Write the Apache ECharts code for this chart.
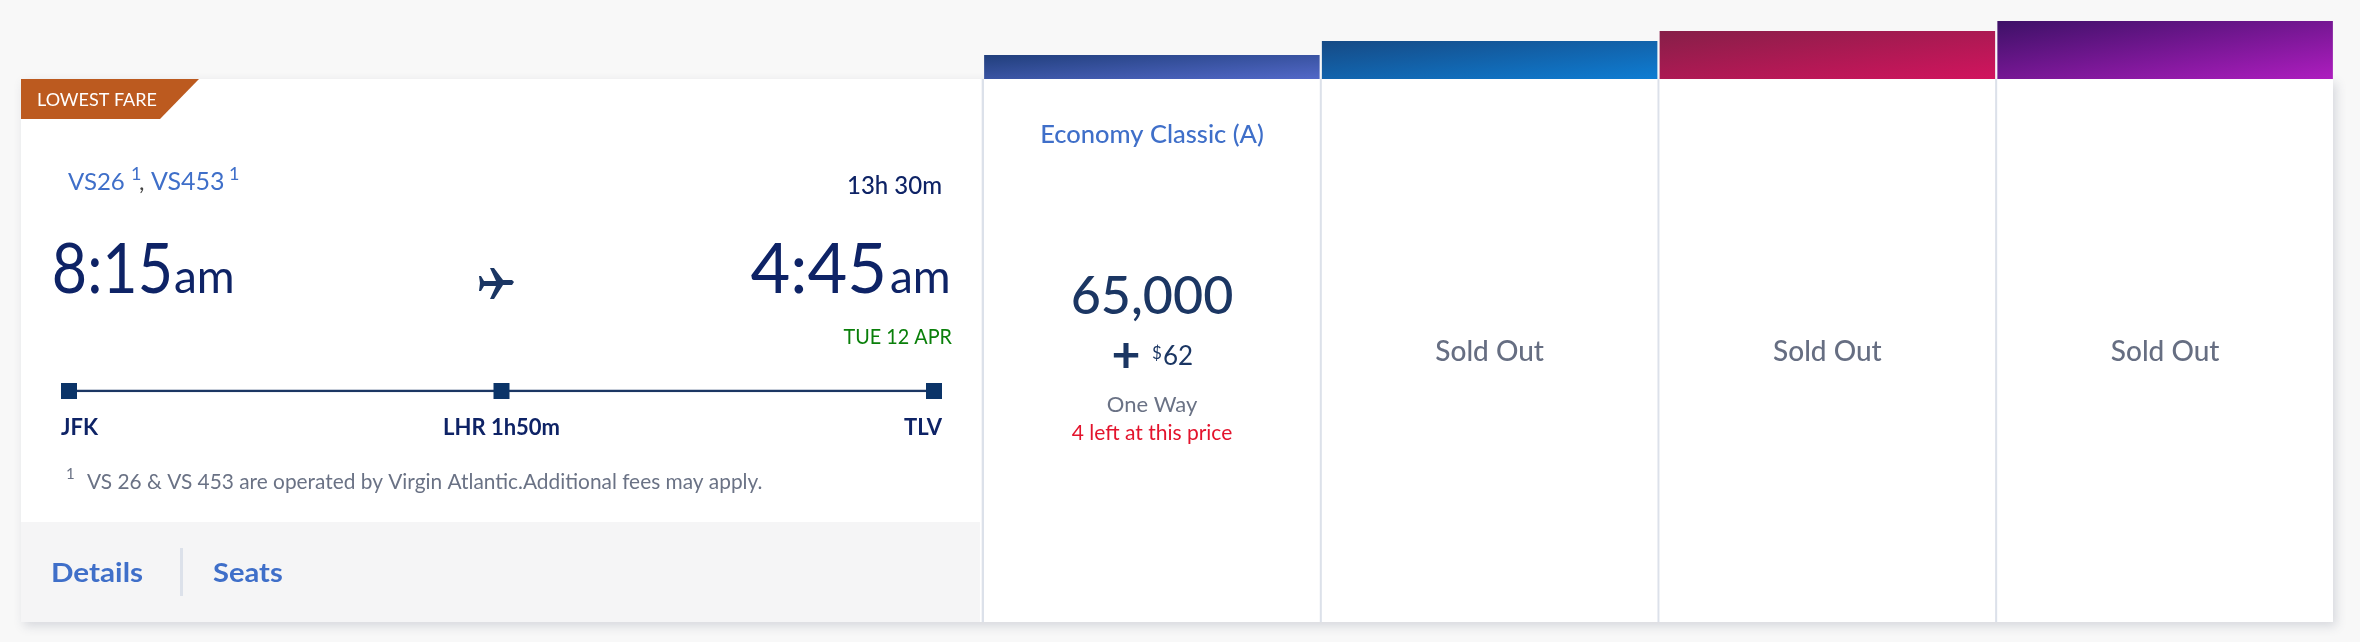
<!DOCTYPE html>
<html>
<head>
<meta charset="utf-8">
<title>Fare table</title>
<style>
  html, body { margin: 0; padding: 0; background: #f8f8f8; }
  #chart { width: 2360px; height: 642px; }
</style>
<script src="https://cdn.jsdelivr.net/npm/echarts@6/dist/echarts.min.js"></script>
</head>
<body>
<div id="chart"></div>
<script>
// fare columns
var fareTiers = ['Economy Classic (A)', 'Tier 2', 'Tier 3', 'Tier 4'];
var tierTabHeights = [24, 38, 48, 58];
var tierStatus = ['', 'Sold Out', 'Sold Out', 'Sold Out'];
var tierFrom = ['#213f7c', '#164a85', '#861f48', '#3d1167'];
var tierTo = ['#5268c8', '#0e7dd3', '#d2145e', '#ae1dbf'];
var columnFill = [1, 1, 1, 1];

// route
var routeStops = ['JFK', 'LHR 1h50m', 'TLV'];
var routeLevel = [0, 0, 0];

var NAVY = '#0e2366', SLATE = '#1b3663', BLUE = '#3f6fc9', GREY = '#6a7285';
var FONT = 'Lato, "Open Sans", sans-serif';
var TAB_W = 335.5;

var chart = echarts.init(document.getElementById('chart'), null, { renderer: 'canvas' });

// text placed by its baseline, sx squeezes it to the width of the original font
function txt(x, base, text, size, color, align, weight, sx) {
  return {
    type: 'text', x: x, y: base - size * 0.32, scaleX: sx || 1, silent: true, z: 20,
    style: {
      text: text, fontSize: size, fontFamily: FONT, fontWeight: weight || 'normal',
      fill: color, align: align || 'left', verticalAlign: 'middle'
    }
  };
}

// like css "to bottom right": the corners top right and bottom left get the same colour
function tabGradient(h, i) {
  var w = TAB_W, d = w * w + h * h;
  return new echarts.graphic.LinearGradient(0, 0, 2 * h * h / d, 2 * w * w / d, [
    { offset: 0, color: tierFrom[i] },
    { offset: 1, color: tierTo[i] }
  ]);
}

var graphics = [
  // card with the shadow
  { type: 'rect', z: 0, shape: { x: 21, y: 79, width: 2312, height: 543 },
    style: { fill: '#fff', shadowBlur: 10, shadowColor: 'rgba(60,70,100,0.18)', shadowOffsetX: 3, shadowOffsetY: 4 } },
  { type: 'rect', z: 1, shape: { x: 21, y: 522, width: 959, height: 100 }, style: { fill: '#f5f5f6' } },
  { type: 'rect', z: 1, shape: { x: 180, y: 548, width: 3, height: 48 }, style: { fill: '#dce1ea' } },
  // badge
  { type: 'polygon', z: 2, shape: { points: [[21, 79], [199, 79], [160, 119], [21, 119]] }, style: { fill: '#bc5a1f' } },
  // plane
  { type: 'polygon', z: 2, x: 479, y: 267,
    shape: { points: [[0, 9], [2, 9], [5, 14], [17, 14], [11, 1], [15, 1], [24, 13], [33, 13], [35, 15], [33, 18], [24, 18], [15, 32], [11, 32], [17, 19], [5, 19], [2, 24], [0, 24], [1, 16]] },
    style: { fill: SLATE } },

  txt(37, 106, 'LOWEST FARE', 18, '#fff'),

  txt(68, 190, 'VS26', 24, BLUE),
  txt(131, 180, '1', 18, BLUE),
  txt(139, 190, ',', 24, '#444'),
  txt(151, 190, 'VS453', 25, BLUE),
  txt(229, 180, '1', 18, BLUE),
  txt(942, 194, '13h 30m', 24, NAVY, 'right', 500),

  txt(173, 293, '8:15', 70, NAVY, 'right', 'normal', 0.87),
  txt(174, 293, 'am', 46, NAVY),
  txt(887, 293, '4:45', 70, NAVY, 'right', 'normal', 0.98),
  txt(890, 293, 'am', 46, NAVY),
  txt(952, 344, 'TUE 12 APR', 22, '#0a7f0a', 'right', 'normal', 0.9),

  txt(66, 479, '1', 15, GREY),
  txt(87, 489, 'VS 26 & VS 453 are operated by Virgin Atlantic.Additional fees may apply.', 21, GREY, 'left', 'normal', 0.993),

  txt(51, 582, 'Details', 26, BLUE, 'left', 'bold', 1.14),
  txt(213, 582, 'Seats', 26, BLUE, 'left', 'bold', 1.12),

  txt(1152, 143, fareTiers[0], 25.5, BLUE, 'center', 500),
  txt(1152, 314, '65,000', 52, SLATE, 'center', 500),
  txt(1126, 372, '+', 50, SLATE, 'center', 'bold'),
  txt(1152, 359, '$', 17, SLATE),
  txt(1163, 365, '62', 26, SLATE),
  txt(1152, 412, 'One Way', 22, GREY, 'center'),
  txt(1152, 440, '4 left at this price', 21, '#e3132c', 'center')
];

chart.setOption({
  animation: false,
  backgroundColor: '#f8f8f8',
  graphic: graphics,
  grid: [
    { left: 983, width: 1351, top: 21, height: 58 },    // coloured tabs
    { left: 983, width: 1351, top: 79, height: 543 },   // column bodies
    { left: 69, width: 865, top: 390, height: 1 }       // route line
  ],
  xAxis: [
    { type: 'category', gridIndex: 0, data: fareTiers, show: false },
    { type: 'category', gridIndex: 1, data: fareTiers, show: false },
    { type: 'category', gridIndex: 2, data: routeStops, boundaryGap: false, show: false }
  ],
  yAxis: [
    { type: 'value', gridIndex: 0, min: 0, max: 58, show: false },
    { type: 'value', gridIndex: 1, min: 0, max: 1, show: false },
    { type: 'value', gridIndex: 2, min: 0, max: 1, show: false }
  ],
  series: [
    {
      type: 'bar', xAxisIndex: 0, yAxisIndex: 0, barWidth: TAB_W, silent: true, z: 5,
      data: tierTabHeights.map(function (v, i) {
        return { value: v, itemStyle: { color: tabGradient(v, i) } };
      })
    },
    {
      // white columns, the gaps between them are the divider lines
      type: 'bar', xAxisIndex: 1, yAxisIndex: 1, barWidth: TAB_W, silent: true, z: 5,
      itemStyle: { color: '#fff' },
      data: columnFill.map(function (v, i) {
        return {
          value: v,
          label: {
            show: !!tierStatus[i], formatter: tierStatus[i], position: ['50%', 273],
            align: 'center', verticalAlign: 'middle',
            fontSize: 28, fontFamily: FONT, fontWeight: 500, color: '#666e82'
          }
        };
      })
    },
    {
      type: 'line', xAxisIndex: 2, yAxisIndex: 2, silent: true, z: 6,
      data: routeLevel,
      symbol: 'rect', symbolSize: 16, showAllSymbol: true,
      lineStyle: { color: '#1b3663', width: 2.5 },
      itemStyle: { color: '#0b3468' },
      label: {
        show: true, position: 'bottom', distance: 18,
        formatter: function (p) { return routeStops[p.dataIndex]; },
        fontSize: 22, fontFamily: FONT, fontWeight: 'bold', color: NAVY
      },
      labelLayout: function (p) {
        // outer stops line up with their squares' edges
        if (p.dataIndex === 0) return { x: 61, align: 'left' };
        if (p.dataIndex === 2) return { x: 942, align: 'right' };
        return {};
      }
    }
  ]
});

// column dividers sit under the bars, in the gaps
chart.setOption({
  graphic: graphics.concat(fareTiers.map(function (t, i) {
    var x = chart.convertToPixel({ xAxisIndex: 1 }, i) - 169;
    return { type: 'rect', z: 1, shape: { x: x - 1.2, y: 79, width: 2.5, height: 543 }, style: { fill: '#dce1ea' } };
  }))
});
</script>
</body>
</html>
